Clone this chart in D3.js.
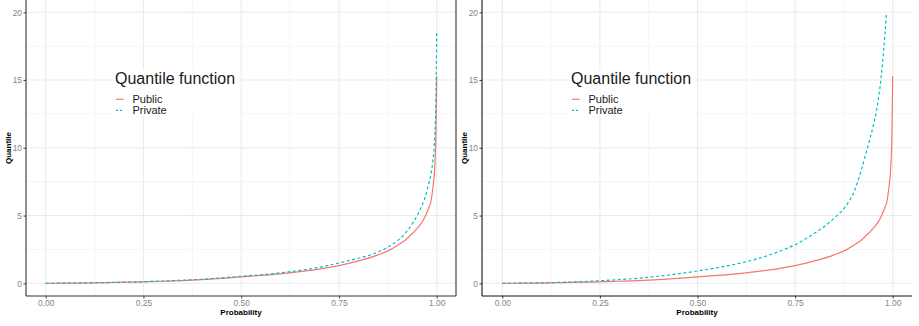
<!DOCTYPE html>
<html>
<head>
<meta charset="utf-8">
<script src="https://cdn.jsdelivr.net/npm/d3@7"></script>
<style>
  body { margin: 0; background: #fff; }
  svg { display: block; font-family: Arial, "Liberation Sans", sans-serif; }
</style>
</head>
<body>
<script>
// probability grid shared by the Public curve and the left Private curve
var probs = [0, 0.05, 0.1, 0.15, 0.2, 0.25, 0.3, 0.35, 0.4, 0.45, 0.5, 0.55, 0.6, 0.65,
             0.7, 0.75, 0.8, 0.85, 0.88, 0.9, 0.92, 0.94, 0.95, 0.96, 0.97, 0.98, 0.985,
             0.99, 0.995, 0.998, 1.0];
var publicQ = [0, 0.01, 0.02, 0.05, 0.08, 0.11, 0.15, 0.2, 0.27, 0.36, 0.48, 0.58, 0.7, 0.86,
               1.05, 1.3, 1.65, 2.1, 2.45, 2.8, 3.2, 3.75, 4.05, 4.4, 4.9, 5.6, 6.0,
               7.0, 8.6, 11.0, 15.3];
var privateLeftQ = [0, 0.01, 0.03, 0.05, 0.08, 0.12, 0.17, 0.23, 0.3, 0.4, 0.52, 0.63, 0.77, 0.95,
                    1.18, 1.5, 1.85, 2.3, 2.75, 3.15, 3.7, 4.5, 5.0, 5.6, 6.3, 7.4, 8.0,
                    9.0, 10.8, 13.5, 18.6];
// right panel Private curve stops near p = 0.984
var probsRight = [0, 0.05, 0.1, 0.15, 0.2, 0.25, 0.3, 0.35, 0.4, 0.45, 0.5, 0.55, 0.6, 0.65,
                  0.7, 0.75, 0.8, 0.85, 0.88, 0.9, 0.92, 0.94, 0.95, 0.96, 0.97, 0.975, 0.98, 0.984];
var privateRightQ = [0, 0.01, 0.03, 0.07, 0.12, 0.19, 0.27, 0.38, 0.52, 0.7, 0.91, 1.15, 1.43, 1.78,
                     2.25, 2.85, 3.7, 4.8, 5.7, 6.7, 8.4, 10.5, 11.6, 13.0, 15.1, 16.6, 18.3, 19.9];

var xTicks = [0, 0.25, 0.5, 0.75, 1];
var xMinor = [0.125, 0.375, 0.625, 0.875];
var yTicks = [0, 5, 10, 15, 20];
var yMinor = [2.5, 7.5, 12.5, 17.5];
var seriesNames = ["Public", "Private"];
var legendTitle = "Quantile function";

var colors = { Public: "#F8766D", Private: "#00BFC4" };

var w = 919, h = 326;
var svg = d3.select("body").append("svg").attr("width", w).attr("height", h);

function draw_panel(p) {
    var x = d3.scaleLinear().domain([0, 1]).range([p.x0, p.x1]);
    var y = d3.scaleLinear().domain([0, 20]).range([283.3, 12.3]);
    var g = svg.append("g");

    var clipId = "clip" + p.id;
    svg.append("clipPath").attr("id", clipId)
        .append("rect")
        .attr("x", p.left).attr("y", 0)
        .attr("width", p.right - p.left).attr("height", p.bottom);

    // grid
    g.selectAll(".ymin").data(yMinor).enter().append("line")
        .attr("x1", p.left).attr("x2", p.right)
        .attr("y1", function(d) { return y(d); }).attr("y2", function(d) { return y(d); })
        .attr("stroke", "#f2f2f2").attr("stroke-width", 0.8);
    g.selectAll(".xmin").data(xMinor).enter().append("line")
        .attr("y1", 0).attr("y2", p.bottom)
        .attr("x1", function(d) { return x(d); }).attr("x2", function(d) { return x(d); })
        .attr("stroke", "#f2f2f2").attr("stroke-width", 0.8);
    g.selectAll(".ymaj").data(yTicks).enter().append("line")
        .attr("x1", p.left).attr("x2", p.right)
        .attr("y1", function(d) { return y(d); }).attr("y2", function(d) { return y(d); })
        .attr("stroke", "#ebebeb").attr("stroke-width", 1.1);
    g.selectAll(".xmaj").data(xTicks).enter().append("line")
        .attr("y1", 0).attr("y2", p.bottom)
        .attr("x1", function(d) { return x(d); }).attr("x2", function(d) { return x(d); })
        .attr("stroke", "#ebebeb").attr("stroke-width", 1.1);

    // lines
    var line = d3.line()
        .curve(d3.curveMonotoneX)
        .x(function(d) { return x(d[0]); })
        .y(function(d) { return y(d[1]); });
    var lines = g.append("g").attr("clip-path", "url(#" + clipId + ")");
    lines.append("path")
        .datum(d3.zip(probs, publicQ))
        .attr("d", line)
        .attr("fill", "none")
        .attr("stroke", colors.Public)
        .attr("stroke-width", 1.2);
    lines.append("path")
        .datum(d3.zip(p.privP, p.privQ))
        .attr("d", line)
        .attr("fill", "none")
        .attr("stroke", colors.Private)
        .attr("stroke-width", 1.2)
        .attr("stroke-dasharray", "3,2.5");

    // axes
    var xAxis = d3.axisBottom(x).tickValues(xTicks).tickFormat(d3.format(".2f"))
        .tickSizeInner(2.5).tickSizeOuter(0).tickPadding(2);
    var yAxis = d3.axisLeft(y).tickValues(yTicks).tickFormat(d3.format("d"))
        .tickSizeInner(2.5).tickSizeOuter(0).tickPadding(1.5);
    var ax = g.append("g").attr("transform", "translate(0," + p.bottom + ")").call(xAxis);
    var ay = g.append("g").attr("transform", "translate(" + p.left + ",0)").call(yAxis);
    [ax, ay].forEach(function(a) {
        a.select(".domain").remove();
        a.selectAll("line").attr("stroke", "#444");
        a.selectAll("text").attr("fill", "#858585").attr("font-size", "8.4px")
            .attr("font-family", "Arial, 'Liberation Sans', sans-serif");
    });

    // panel lines
    g.append("line").attr("x1", p.left).attr("x2", p.right)
        .attr("y1", p.bottom).attr("y2", p.bottom)
        .attr("stroke", p.axisColor).attr("stroke-width", 1.1);
    g.append("line").attr("x1", p.left).attr("x2", p.left)
        .attr("y1", 0).attr("y2", p.bottom)
        .attr("stroke", p.axisColor).attr("stroke-width", 1.1);
    if (p.border) {
        g.append("line").attr("x1", p.right).attr("x2", p.right)
            .attr("y1", 0).attr("y2", p.bottom)
            .attr("stroke", p.axisColor).attr("stroke-width", 1.1);
    }

    // axis titles
    g.append("text")
        .attr("x", (p.left + p.right) / 2).attr("y", 315)
        .attr("text-anchor", "middle")
        .attr("font-size", "8px").attr("font-weight", "bold")
        .text("Probability");
    g.append("text")
        .attr("transform", "translate(" + (p.left - 15) + ",148) rotate(-90)")
        .attr("text-anchor", "middle")
        .attr("font-size", "8px").attr("font-weight", "bold")
        .text("Quantile");

    // legend
    var lg = g.append("g").attr("transform", "translate(" + p.legX + ",70)");
    lg.append("rect").attr("x", 0).attr("y", 0)
        .attr("width", p.legW).attr("height", 45).attr("fill", "#fff");
    lg.append("text").attr("x", 3).attr("y", 13.5)
        .attr("font-size", "16px").attr("fill", "#1a1a1a")
        .text(legendTitle);
    var items = lg.selectAll(".item").data(seriesNames).enter().append("g")
        .attr("transform", function(d, i) { return "translate(0," + (29.3 + i * 11) + ")"; });
    items.append("line")
        .attr("x1", 4).attr("x2", 11.5)
        .attr("stroke", function(d) { return colors[d]; })
        .attr("stroke-width", 1.2)
        .attr("stroke-dasharray", function(d) { return d === "Private" ? "2,2" : null; });
    items.append("text")
        .attr("x", 20.5).attr("y", 4)
        .attr("font-size", "11px").attr("fill", "#1a1a1a")
        .text(function(d) { return d; });
}

draw_panel({ id: "L", x0: 45.7, x1: 436.7, left: 26, right: 456, bottom: 296,
             privP: probs, privQ: privateLeftQ, axisColor: "#333", border: true,
             legX: 112, legW: 128 });
draw_panel({ id: "R", x0: 502.3, x1: 892.7, left: 482, right: 912, bottom: 296,
             privP: probsRight, privQ: privateRightQ, axisColor: "#111", border: false,
             legX: 568, legW: 129 });
</script>
</body>
</html>
